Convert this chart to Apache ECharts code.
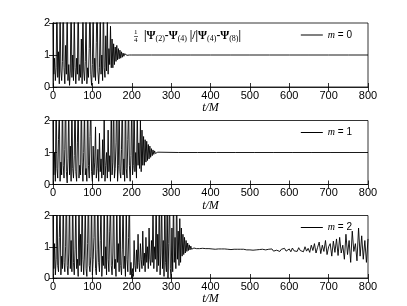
<!DOCTYPE html>
<html><head><meta charset="utf-8">
<script src="https://cdn.jsdelivr.net/npm/echarts@6/dist/echarts.min.js"></script>
<style>html,body{margin:0;padding:0;background:#fff}#c{width:407px;height:306px}</style>
</head><body><div id="c"></div>
<script>
var xTicks = [0,100,200,300,400,500,600,700,800];
var yTicks = [0,1,2];
var seriesNames = ['m = 0','m = 1','m = 2'];
// dense part sampled every 2 M from t = 0; tail part spread evenly from the end of the dense part to t = 800
var denseStep = 2;
var m0Dense = [2.5,0.4,0.9,0.2,0.6,2.8,0.3,1.1,0.1,2.4,0.5,0.2,0.8,3.0,0.6,0.1,1.3,0.4,2.6,0.2,0.7,0.05,0.5,2.9,0.3,1.0,0.2,2.2,0.6,0.1,0.9,0.4,3.0,0.2,0.7,0.3,1.5,0.1,2.7,0.5,0.2,0.8,2.4,0.1,0.6,0.3,1.2,2.9,0.4,0.05,0.7,2.5,0.3,0.9,0.2,1.4,3.0,0.5,0.1,0.6,2.3,0.4,1.0,0.2,2.8,0.6,0.3,1.6,0.5,2.1,0.4,1.2,0.7,1.9,0.6,1.5,
  0.6,1.35,0.7,1.25,0.8,1.3,0.85,1.2,0.88,1.15,0.9,1.1,0.93,1.06,0.96,1.04,0.98,1.02,0.99,1.01,1.0,1.0,1.0,1.0,1.0];
var m0Tail = [1,1,1,1,1,1,1,1,1,1,1,1];
var m1Dense = [2.6,0.3,1.0,0.1,2.9,0.5,0.2,1.4,2.4,0.1,0.7,0.3,2.8,0.6,0.2,1.1,3.0,0.4,0.05,0.8,2.5,0.3,1.2,0.1,2.7,0.5,
  0.2,0.9,2.9,0.4,0.1,1.3,2.6,0.2,0.6,0.3,2.8,0.7,0.1,1.0,2.4,0.3,0.5,0.1,3.0,0.6,0.2,1.5,2.5,0.4,0.1,
  1.2,0.3,0.7,1.8,0.2,0.5,1.1,0.1,1.6,0.4,0.8,0.2,1.4,0.3,2.2,0.1,0.6,1.0,0.2,1.7,0.4,0.9,0.1,2.6,0.3,
  0.7,2.9,0.2,0.5,1.3,3.0,0.1,0.6,2.7,0.4,0.2,1.1,2.8,0.3,0.8,0.1,3.0,0.5,0.2,1.4,2.5,0.6,0.1,0.9,2.7,
  0.3,0.6,2.9,0.4,1.0,0.2,2.4,0.6,1.3,0.5,2.0,0.4,1.7,0.6,1.5,
  0.6,1.4,0.7,1.35,0.75,1.25,0.8,1.2,0.85,1.12,0.9,1.08,0.94,1.05,0.97,1.03,0.98,1.01,1.0,1.0];
var m1Tail = [1,1,1,1,1,1,1,1,1,1,1];
var m2Dense = [2.7,0.3,1.1,0.1,0.6,2.9,0.4,0.2,1.3,2.5,0.1,0.7,0.3,2.8,0.5,0.2,1.0,3.0,0.4,0.1,0.8,2.6,0.3,1.2,0.2,2.9,
  0.5,0.1,0.9,2.4,0.3,0.6,0.05,2.8,0.4,1.4,0.2,3.0,0.6,0.1,0.8,2.5,0.3,0.05,1.1,2.9,0.4,0.2,0.7,2.6,0.1,
  0.6,1.3,2.8,0.3,0.1,0.9,3.0,0.5,0.2,1.2,2.4,0.05,0.7,0.4,2.9,0.3,1.0,0.1,2.7,0.6,0.2,1.5,2.5,0.4,0.1,
  0.8,2.9,0.3,0.6,0.05,2.6,0.5,1.1,0.2,3.0,0.4,0.1,0.9,2.7,0.3,0.7,0.05,2.4,0.6,0.2,1.3,2.8,0.1,0.5,0.0,
  0.3,0.05,1.2,0.4,0.2,0.9,0.3,1.4,0.5,0.2,1.1,0.6,0.3,1.5,0.4,0.8,0.2,1.3,0.5,1.0,0.3,1.6,0.6,0.4,1.2,
  0.5,2.4,0.3,1.0,0.6,2.8,0.2,1.4,0.4,3.0,0.1,0.8,2.6,0.3,1.2,0.05,2.9,0.5,0.2,2.5,0.0,1.1,2.8,0.3,0.0,
  1.6,0.2,2.7,0.5,1.3,0.3,2.9,0.6,1.5,0.4,
  1.9,0.5,1.6,0.7,1.4,0.75,1.3,0.8,1.2,0.85,1.12,0.88,1.06,0.9,1.02,0.92,0.98,0.94,0.96,0.95];
var m2Tail = [0.94,0.95,0.94,0.94,0.95,0.93,0.94,0.93,0.94,0.93,0.93,0.94,0.92,0.93,0.93,0.92,0.93,0.92,0.93,0.92,0.92,0.93,0.91,0.92,0.92,0.91,0.92,0.91,0.92,0.90,0.92,0.91,0.90,0.92,0.90,0.91,0.89,0.92,0.90,0.89,0.91,0.88,0.92,0.89,0.90,0.87,0.92,
  0.88,0.93,0.86,0.91,0.89,0.94,0.85,0.92,0.87,0.95,0.86,0.90,0.93,0.84,0.96,0.87,0.91,0.85,0.97,0.88,0.93,0.84,1.0,0.86,0.95,
  0.82,1.05,0.88,1.1,0.8,0.98,1.15,0.78,1.05,0.85,1.2,0.75,1.0,1.1,0.7,1.18,0.82,1.25,
  0.72,1.3,0.8,1.05,0.6,1.4,0.75,1.2,0.5,1.5,0.85,1.1,0.55,1.6,0.7,1.35,0.6,1.2,0.5,1.25];

function build(dense, tail){
  var out = [];
  for (var i=0;i<dense.length;i++) out.push([i*denseStep, dense[i]]);
  var t0 = (dense.length-1)*denseStep;
  var st = (800 - t0)/tail.length;
  for (var j=0;j<tail.length;j++) out.push([t0 + (j+1)*st, tail[j]]);
  return out;
}
var data = [build(m0Dense,m0Tail), build(m1Dense,m1Tail), build(m2Dense,m2Tail)];

var tops = [23, 120.5, 215.5];
var h = 64;
var grids=[], xAxes=[], yAxes=[], series=[], legends=[];
var lab = {color:'#000', fontSize:11, fontFamily:'Liberation Sans'};
var tick = {inside:true,length:4,lineStyle:{color:'#000',width:0.8}};
for (var k=0;k<3;k++){
  grids.push({left:53, top:tops[k], width:315, height:h, show:true, borderColor:'#000', borderWidth:0.8, backgroundColor:'transparent'});
  xAxes.push({type:'value', gridIndex:k, min:0, max:800, interval:100, position:'bottom',
    axisLine:{lineStyle:{color:'#000',width:0.8}}, axisTick:tick,
    axisLabel:Object.assign({margin:3}, lab), splitLine:{show:false},
    name:'t/M', nameLocation:'middle', nameGap:15,
    nameTextStyle:{color:'#000', fontSize:12, fontStyle:'italic', fontFamily:'Liberation Serif'}});
  xAxes.push({type:'value', gridIndex:k, min:0, max:800, interval:100, position:'top',
    axisLine:{show:false}, axisTick:tick, axisLabel:{show:false}, splitLine:{show:false}});
  yAxes.push({type:'value', gridIndex:k, min:0, max:2, interval:1, position:'left',
    axisLine:{show:true, lineStyle:{color:'#000',width:0.8}}, axisTick:tick,
    axisLabel:Object.assign({margin:3}, lab), splitLine:{show:false}});
  yAxes.push({type:'value', gridIndex:k, min:0, max:2, interval:1, position:'right',
    axisLine:{show:false}, axisTick:tick, axisLabel:{show:false}, splitLine:{show:false}});
  series.push({type:'line', name:seriesNames[k], xAxisIndex:2*k, yAxisIndex:2*k, data:data[k],
    showSymbol:false, symbol:'none', sampling:null, clip:true, animation:false,
    lineStyle:{color:'#000', width:0.9}, itemStyle:{color:'#000'}});
  legends.push({data:[{name:seriesNames[k], icon:'rect'}], right:55, top:tops[k]+7, itemWidth:22, itemHeight:1, itemGap:2,
    padding:0,
    textStyle:{color:'#000', fontSize:10, fontFamily:'Liberation Sans',
      rich:{i:{fontStyle:'italic', fontSize:10, fontFamily:'Liberation Serif', color:'#000'}}},
    formatter:function(n){return '{i|m} = '+n.split('= ')[1];}});
}

var chart = echarts.init(document.getElementById('c'), null, {renderer:'canvas'});
chart.setOption({
  backgroundColor:'#fff', animation:false,
  grid:grids, xAxis:xAxes, yAxis:yAxes, series:series, legend:legends,
  graphic:[
    {type:'text', left:134, top:29, style:{text:'1', fontSize:7, fill:'#000', fontFamily:'Liberation Serif'}},
    {type:'line', shape:{x1:134, y1:36.5, x2:138, y2:36.5}, style:{stroke:'#000', lineWidth:0.6}},
    {type:'text', left:134, top:37, style:{text:'4', fontSize:7, fill:'#000', fontFamily:'Liberation Serif'}},
    {type:'text', left:144, top:30, style:{
      text:'|Ψ{s|(2)}-Ψ{s|(4)} |/|Ψ{s|(4)}-Ψ{s|(8)}|', fontSize:11.5, fontWeight:'bold', fill:'#000', fontFamily:'Liberation Serif',
      rich:{s:{fontSize:8, verticalAlign:'bottom', padding:[6,0,0,0], fill:'#000', fontFamily:'Liberation Serif'}}}}
  ]
});
</script></body></html>
